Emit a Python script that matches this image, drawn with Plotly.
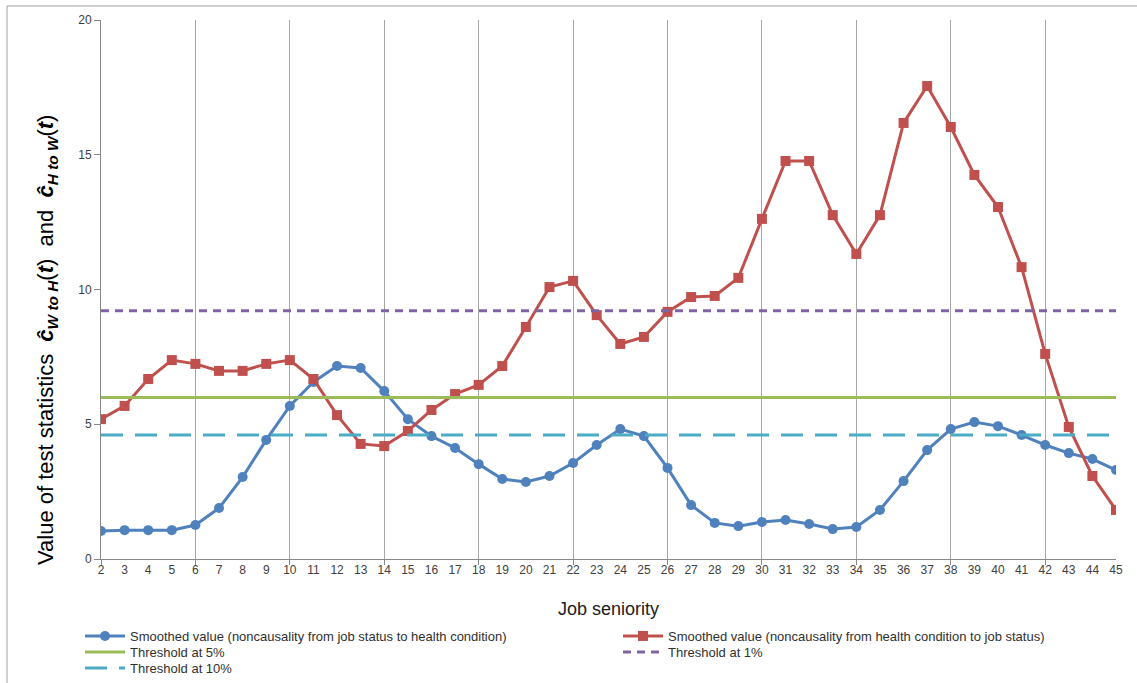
import plotly.graph_objects as go

seniority = list(range(2, 46))

w_to_h = [1.04, 1.07, 1.07, 1.07, 1.26, 1.89, 3.04, 4.42, 5.68, 6.57,
          7.16, 7.09, 6.23, 5.19, 4.56, 4.12, 3.52, 2.97, 2.86, 3.08,
          3.56, 4.23, 4.82, 4.56, 3.38, 2.00, 1.34, 1.22, 1.37, 1.45,
          1.30, 1.11, 1.19, 1.82, 2.89, 4.04, 4.82, 5.08, 4.93, 4.60,
          4.23, 3.93, 3.71, 3.30]

h_to_w = [5.19, 5.68, 6.68, 7.38, 7.24, 6.98, 6.98, 7.24, 7.38, 6.68,
          5.34, 4.27, 4.19, 4.75, 5.53, 6.12, 6.46, 7.16, 8.61, 10.09,
          10.32, 9.05, 7.98, 8.24, 9.17, 9.72, 9.76, 10.43, 12.62, 14.77,
          14.77, 12.76, 11.32, 12.76, 16.18, 17.55, 16.03, 14.25, 13.06, 10.83,
          7.61, 4.90, 3.08, 1.82]

threshold_5 = 5.991
threshold_1 = 9.210
threshold_10 = 4.605

grid_ticks = list(range(6, 46, 4))

FONT = "Liberation Sans Narrow, Liberation Sans, Arial, sans-serif"

fig = go.Figure()

fig.add_trace(go.Scatter(
    x=seniority, y=w_to_h, mode="lines+markers",
    name="Smoothed value (noncausality from job status to health condition)",
    line=dict(color="#4F81BD", width=3),
    marker=dict(symbol="circle", size=10, color="#4F81BD"), legend="legend"))

fig.add_trace(go.Scatter(
    x=seniority, y=h_to_w, mode="lines+markers",
    name="Smoothed value (noncausality from health condition to job status)",
    line=dict(color="#C0504D", width=3),
    marker=dict(symbol="square", size=10, color="#C0504D"), legend="legend"))

fig.add_trace(go.Scatter(
    x=seniority, y=[threshold_5] * len(seniority), mode="lines",
    name="Threshold at 5%",
    line=dict(color="#9BBB59", width=3), legend="legend2"))

fig.add_trace(go.Scatter(
    x=seniority, y=[threshold_1] * len(seniority), mode="lines",
    name="Threshold at 1%",
    line=dict(color="#8064A2", width=3, dash="8px,6px"), legend="legend2"))

fig.add_trace(go.Scatter(
    x=seniority, y=[threshold_10] * len(seniority), mode="lines",
    name="Threshold at 10%",
    line=dict(color="#4BACC6", width=3, dash="22px,12px"), legend="legend3"))

# invisible trace to host the secondary x-axis used for gridlines every 4
fig.add_trace(go.Scatter(x=[seniority[0]], y=[0], xaxis="x2", mode="markers",
                         marker=dict(opacity=0), showlegend=False, hoverinfo="skip"))

PLOT_TOP, PLOT_BOTTOM, PLOT_LEFT, PLOT_RIGHT = 20, 559, 101, 1116
PH = PLOT_BOTTOM - PLOT_TOP
PW = PLOT_RIGHT - PLOT_LEFT


def py(px):
    return (PLOT_BOTTOM - px) / PH


def pxp(px):
    return (px - PLOT_LEFT) / PW


legend_common = dict(orientation="h", xanchor="left", yanchor="middle",
                     font=dict(size=13, color="#303030", family=FONT),
                     entrywidth=483, entrywidthmode="pixels",
                     traceorder="normal", bgcolor="rgba(0,0,0,0)",
                     itemwidth=40)

fig.update_layout(
    width=1137, height=683,
    margin=dict(l=PLOT_LEFT, r=1137 - PLOT_RIGHT, t=PLOT_TOP, b=683 - PLOT_BOTTOM,
                autoexpand=False),
    paper_bgcolor="white", plot_bgcolor="white",
    font=dict(family=FONT, color="#404040", size=12),
    showlegend=True,
    legend=dict(legend_common, x=pxp(80), y=py(636)),
    legend2=dict(legend_common, x=pxp(80), y=py(652)),
    legend3=dict(legend_common, x=pxp(80), y=py(668)),
    xaxis=dict(range=[2, 45], tickmode="linear", tick0=2, dtick=1,
               showgrid=False, zeroline=False, showline=True,
               linecolor="#888888", linewidth=1, ticks="",
               tickfont=dict(size=12, color="#404040"),
               title=dict(text="Job seniority", font=dict(size=18, color="#202020"),
                          standoff=25)),
    xaxis2=dict(range=[2, 45], overlaying="x", anchor="y", side="bottom",
                tickvals=[2] + grid_ticks, showticklabels=False,
                showgrid=True, gridcolor="#A6A6A6", gridwidth=1,
                ticks="outside", ticklen=5, tickcolor="#888888",
                zeroline=False, showline=False),
    yaxis=dict(range=[0, 20], tickmode="linear", tick0=0, dtick=5,
               showgrid=False, zeroline=False, showline=True,
               linecolor="#888888", linewidth=1,
               ticks="outside", ticklen=6, tickcolor="#888888",
               tickfont=dict(size=12, color="#404040")),
)

fig.add_annotation(
    xref="paper", yref="paper", x=pxp(47), y=py(340), xanchor="center", yanchor="middle",
    textangle=-90, showarrow=False,
    text=("Value of test statistics  <b><i>ĉ</i></b><sub><b><i>W to H</i></b></sub>(<b><i>t</i></b>)"
          "  and  <b><i>ĉ</i></b><sub><b><i>H to W</i></b></sub>(<b><i>t</i></b>)"),
    font=dict(size=22, color="#000000", family=FONT))

# thin outer frame of the chart area (left and top edges visible)
fig.add_shape(type="rect", xref="paper", yref="paper",
              x0=pxp(7), x1=pxp(1160), y0=py(700), y1=py(6),
              line=dict(color="#A0A0A0", width=1), fillcolor="rgba(0,0,0,0)", layer="below")

fig.write_html("out.html")
